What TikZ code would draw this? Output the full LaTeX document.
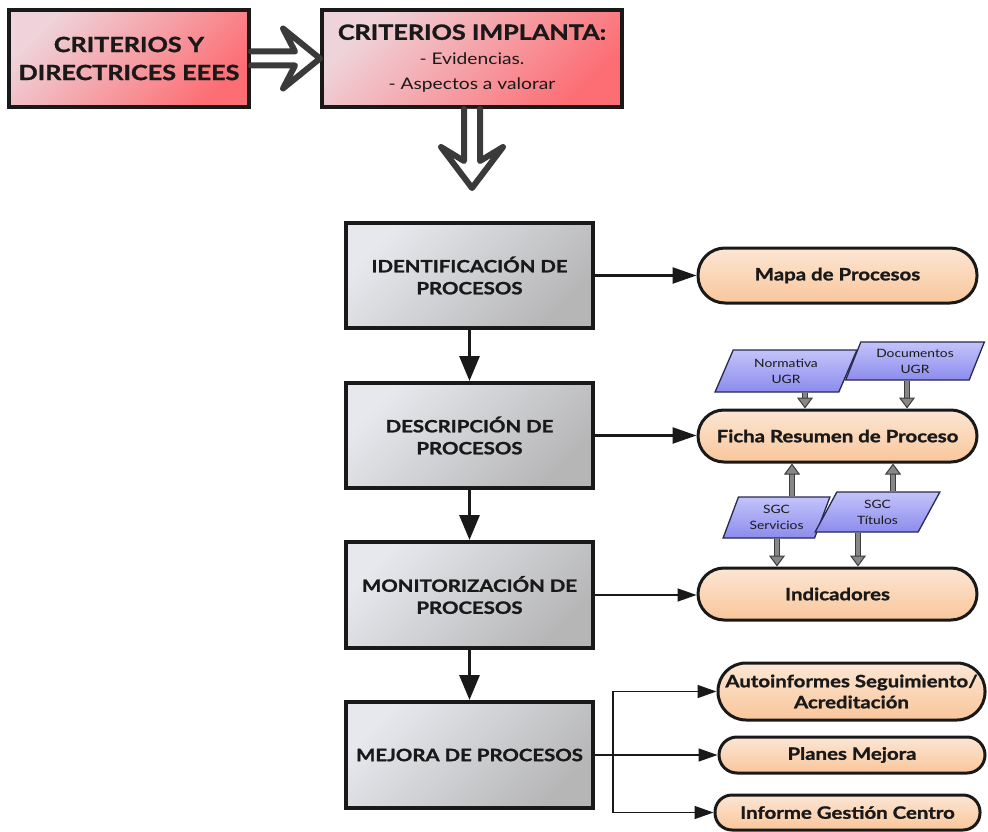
\documentclass[tikz,border=0pt]{standalone}
\usepackage{fontspec}
\setmainfont{Lato}[FakeStretch=1.2, BoldFeatures={FakeBold=1.3}]
\usetikzlibrary{arrows.meta,shapes.geometric,calc}
\definecolor{redlight}{RGB}{238,212,218}
\definecolor{reddark}{RGB}{252,110,116}
\definecolor{graylight}{RGB}{230,232,237}
\definecolor{graydark}{RGB}{182,182,183}
\definecolor{peachlight}{RGB}{252,230,212}
\definecolor{peachdark}{RGB}{249,198,155}
\definecolor{lavlight}{RGB}{195,195,250}
\definecolor{lavdark}{RGB}{140,140,238}
\definecolor{lavborder}{RGB}{40,40,80}
\definecolor{hollow}{RGB}{58,58,58}
\definecolor{gshaft}{RGB}{135,135,135}
\definecolor{goutline}{RGB}{60,60,60}
\definecolor{ink}{RGB}{25,25,25}
\tikzset{
  redbox/.style={rectangle, draw=ink, line width=4pt, top color=redlight, middle color=reddark, bottom color=reddark, shading angle=45, align=center, text=ink},
  graybox/.style={rectangle, draw=ink, line width=4pt, top color=graylight, bottom color=graydark, shading angle=45, minimum width=247pt, minimum height=105pt, align=center, text=ink, font=\bfseries\fontsize{17}{22}\selectfont},
  pill/.style={rectangle, draw=ink, line width=3pt, top color=peachlight, bottom color=peachdark, align=center, text=ink, font=\bfseries\fontsize{17}{21}\selectfont},
  para/.style={trapezium, trapezium left angle=66, trapezium right angle=114, trapezium stretches=true, draw=lavborder, line width=1.3pt, top color=lavlight, bottom color=lavdark, align=center, text=ink, font=\fontsize{11.5}{16}\selectfont, inner sep=0pt},
  hollowarrow/.style={draw=hollow, line width=6pt, fill=white, line join=round, line cap=round},
  bigarr/.style={draw=ink, line width=2.5pt, -{Triangle[length=24pt,width=16pt]}},
  downarr/.style={draw=ink, line width=3pt, -{Triangle[length=25pt,width=20pt]}},
  thinarr/.style={draw=ink, line width=1.5pt, -{Triangle[length=19pt,width=13pt]}},
  garr/.style={draw=gshaft, line width=3.5pt, -{Triangle[length=11pt,width=16pt,color=goutline,fill=gshaft,line width=1pt]}, preaction={draw=goutline, line width=6pt, -, shorten >=10pt}}
}
\begin{document}
\begin{tikzpicture}[x=1pt,y=-1pt]
\useasboundingbox (0,0) rectangle (988,832);
% top red boxes
\node[redbox, minimum width=240pt, minimum height=97pt, font=\bfseries\fontsize{21}{28}\selectfont] (A) at (129,58.5) {CRITERIOS Y\\DIRECTRICES EEES};
\node[redbox, minimum width=300pt, minimum height=97pt, font=\fontsize{16}{25}\selectfont] (B) at (472,58.5) {{\bfseries\fontsize{21}{25}\selectfont CRITERIOS IMPLANTA:}\\- Evidencias.\\- Aspectos a valorar};
% gray process boxes
\node[graybox] (G1) at (469.5,275.5) {IDENTIFICACIÓN DE\\PROCESOS};
\node[graybox] (G2) at (469.5,435.5) {DESCRIPCIÓN DE\\PROCESOS};
\node[graybox, minimum height=106pt] (G3) at (469.5,595) {MONITORIZACIÓN DE\\PROCESOS};
\node[graybox, minimum height=106pt] (G4) at (469.5,755) {MEJORA DE PROCESOS};
% hollow arrows
\draw[hollowarrow] ($(A.east)+(0,-7)$) -- ($(A.east)+(44,-7)$) -- ($(A.east)+(32,-30)$) -- (B.west) -- ($(A.east)+(32,30)$) -- ($(A.east)+(44,7)$) -- ($(A.east)+(0,7)$);
\draw[hollowarrow] ($(B.south)+(-8,0)$) -- ($(B.south)+(-8,52)$) -- ($(B.south)+(-31,38)$) -- ($(B.south)+(0,79)$) -- ($(B.south)+(31,38)$) -- ($(B.south)+(8,52)$) -- ($(B.south)+(8,0)$);
% pills
\node[pill, minimum width=279pt, minimum height=55pt, rounded corners=27pt] (P1) at (837.5,275.5) {Mapa de Procesos};
\node[pill, minimum width=279pt, minimum height=52pt, rounded corners=26pt] (P2) at (837.5,436) {Ficha Resumen de Proceso};
\node[pill, minimum width=279pt, minimum height=52pt, rounded corners=26pt] (P3) at (837.5,594) {Indicadores};
\node[pill, minimum width=267pt, minimum height=57pt, rounded corners=28pt] (P4) at (851.5,691.5) {Autoinformes Seguimiento/\\Acreditación};
\node[pill, minimum width=266pt, minimum height=36pt, rounded corners=18pt] (P5) at (852,755) {Planes Mejora};
\node[pill, minimum width=265pt, minimum height=35pt, rounded corners=17pt] (P6) at (847.5,812.5) {Informe Gestión Centro};
% parallelograms
\node[para, minimum width=142pt, minimum height=42pt] (NU) at (786,371) {Normativa\\UGR};
\node[para, minimum width=140pt, minimum height=38pt] (DU) at (915,361) {Documentos\\UGR};
\node[para, minimum width=107pt, minimum height=41pt] (SS) at (776.5,517.5) {SGC\\Servicios};
\node[para, minimum width=125pt, minimum height=40pt] (ST) at (877.5,512) {SGC\\Títulos};
% gray arrows
\draw[garr] ([xshift=19pt]NU.south) -- ([xshift=19pt]NU.south |- P2.north);
\draw[garr] ([xshift=-8pt]DU.south) -- ([xshift=-8pt]DU.south |- P2.north);
\draw[garr] ([xshift=15.5pt]SS.north) -- ([xshift=15.5pt]SS.north |- P2.south);
\draw[garr] ([xshift=15.5pt]ST.north) -- ([xshift=15.5pt]ST.north |- P2.south);
\draw[garr] ([xshift=0.5pt]SS.south) -- ([xshift=0.5pt]SS.south |- P3.north);
\draw[garr] ([xshift=-19.5pt]ST.south) -- ([xshift=-19.5pt]ST.south |- P3.north);
% process flow
\draw[downarr] (G1.south) -- (G2.north);
\draw[downarr] (G2.south) -- (G3.north);
\draw[downarr] (G3.south) -- (G4.north);
\draw[bigarr] (G1.east) -- (P1.west);
\draw[bigarr] (G2.east) -- (G2.east -| P2.west);
\draw[thinarr] (G3.east) -- (G3.east -| P3.west);
\coordinate (br) at (613,755);
\draw[thinarr] (G4.east) -- (P5.west);
\draw[thinarr] (br) |- (P4.west);
\draw[thinarr] (br) |- (P6.west);
\end{tikzpicture}
\end{document}
